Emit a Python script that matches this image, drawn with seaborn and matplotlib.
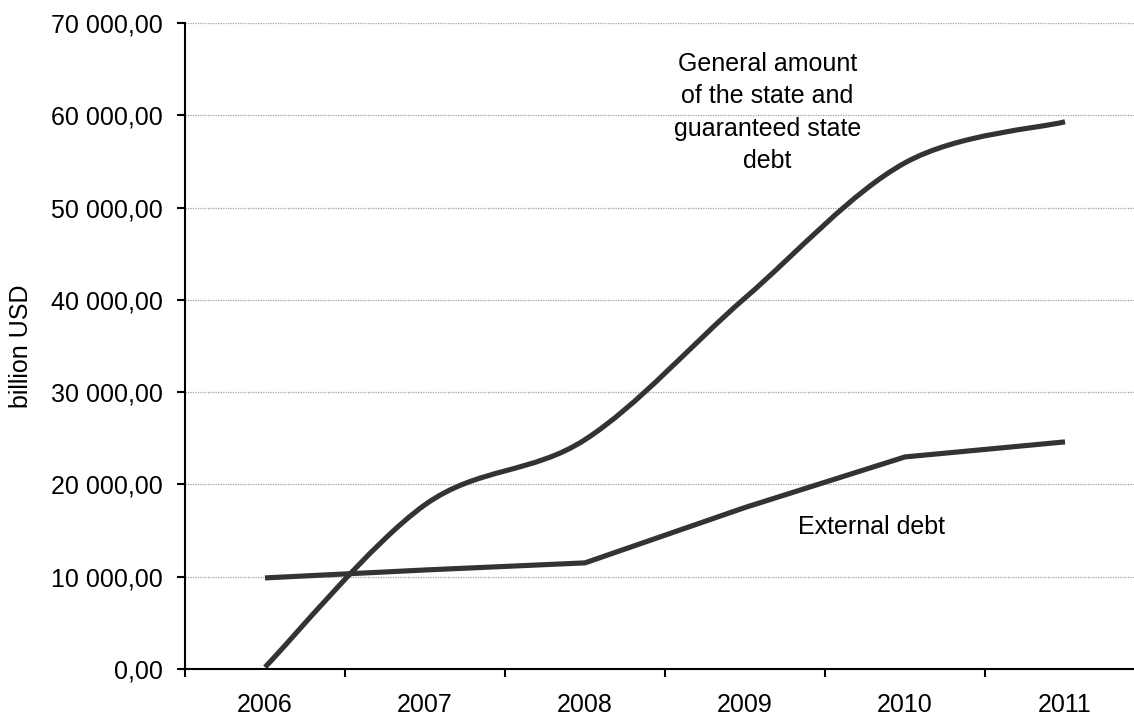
import numpy as np
import pandas as pd
import matplotlib
matplotlib.use("Agg")
import matplotlib.pyplot as plt
import seaborn as sns
from matplotlib.path import Path
from matplotlib.patches import PathPatch
from matplotlib.ticker import FuncFormatter, MultipleLocator

# Data (billion USD)
years = ["2006", "2007", "2008", "2009", "2010", "2011"]
general_debt = [200, 17800, 24850, 40200, 54850, 59300]
external_debt = [9870, 10730, 11500, 17500, 22980, 24610]

line_color = "#333333"

sns.set_theme(style="white")
plt.rcParams['font.family'] = ['Liberation Sans', 'DejaVu Sans']
plt.rcParams['font.size'] = 18

fig = plt.figure(figsize=(11.34, 7.19), dpi=100)
# plot area runs slightly past the right edge of the picture, as in the original
ax = fig.add_axes([185 / 1134, 50 / 719, 960 / 1134, 646 / 719])

x = np.arange(len(years))

# External debt: straight segments
df_ext = pd.DataFrame({"pos": x, "value": external_debt})
sns.lineplot(data=df_ext, x="pos", y="value", color=line_color, linewidth=3.7,
             solid_capstyle="butt", ax=ax)


# General debt: smoothed line (Excel-style bezier through the data points)
def smooth_path(xs, ys):
    pts = np.column_stack([xs, ys]).astype(float)
    padded = np.vstack([pts[0], pts, pts[-1]])
    verts = [pts[0]]
    codes = [Path.MOVETO]
    for i in range(len(pts) - 1):
        p0, p1, p2, p3 = padded[i], padded[i + 1], padded[i + 2], padded[i + 3]
        verts += [p1 + (p2 - p0) / 6, p2 - (p3 - p1) / 6, p2]
        codes += [Path.CURVE4] * 3
    return Path(verts, codes)


ax.add_patch(PathPatch(smooth_path(x, general_debt), facecolor="none",
                       edgecolor=line_color, linewidth=3.7, capstyle="butt",
                       joinstyle="round", zorder=3))

# Axes limits and ticks
ax.set_xlim(-0.5, 5.5)
ax.set_ylim(0, 70000)
ax.yaxis.set_major_locator(MultipleLocator(10000))
ax.yaxis.set_major_formatter(FuncFormatter(
    lambda v, p: f"{int(round(v)):,}".replace(",", " ") + ",00"))

ax.set_xticks(x)
ax.set_xticklabels(years)
ax.set_xticks(np.arange(-0.5, 6.0, 1.0), minor=True)
ax.tick_params(axis="x", which="major", length=0, pad=17, labelsize=18,
               colors="black")
ax.tick_params(axis="x", which="minor", bottom=True, length=6, width=1.5,
               direction="out", color="black")
ax.tick_params(axis="y", which="major", left=True, length=6, width=1.5,
               direction="out", pad=10, labelsize=18, colors="black")

# Grid and spines
ax.yaxis.grid(True, color="#a0a0a0", linestyle=(0, (1, 1)), linewidth=0.9)
ax.xaxis.grid(False)
ax.set_axisbelow(True)
for side in ["top", "right"]:
    ax.spines[side].set_visible(False)
for side in ["left", "bottom"]:
    ax.spines[side].set_color("black")
    ax.spines[side].set_linewidth(1.5)

ax.set_xlabel("")
ax.set_ylabel("billion USD", fontsize=18, color="black")
ax.yaxis.set_label_coords(-0.158, 0.5)

# Line labels
ax.text(3.14, 60300, "General amount\nof the state and\nguaranteed state\ndebt",
        ha="center", va="center", multialignment="center", fontsize=18,
        linespacing=1.45, color="black")
ax.text(3.79, 15400, "External debt", ha="center", va="center", fontsize=18,
        color="black")

fig.savefig("out.png", dpi=100)
